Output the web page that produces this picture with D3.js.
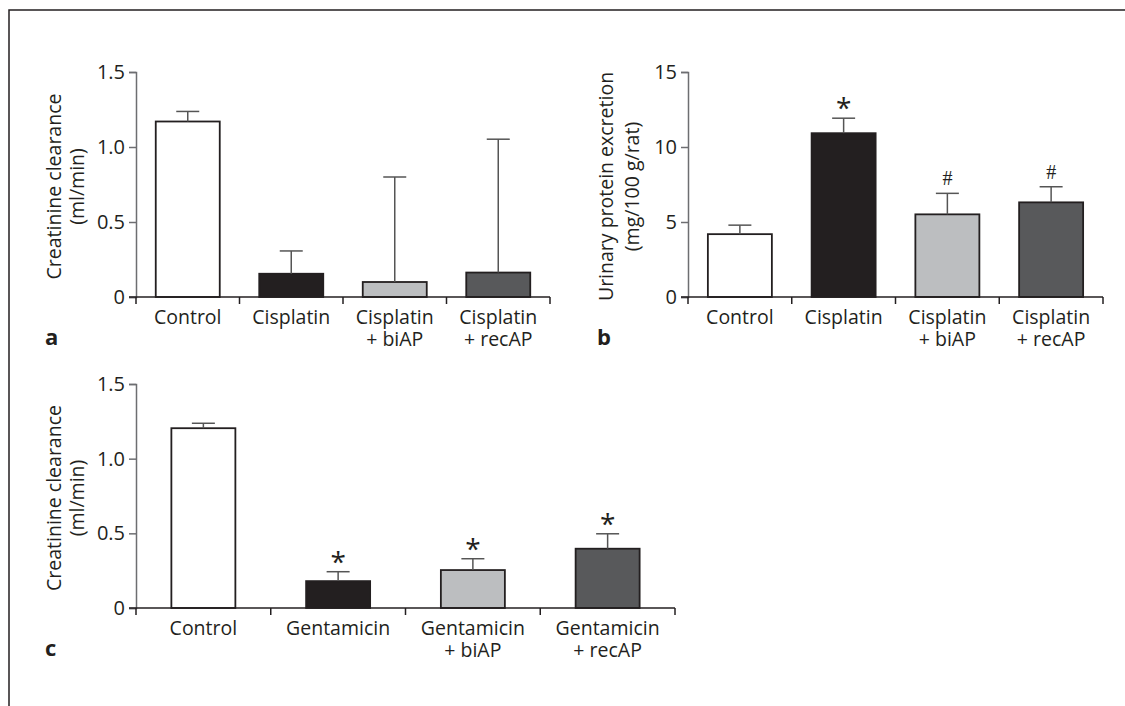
<!DOCTYPE html>
<html>
<head>
<meta charset="utf-8">
<script src="https://cdn.jsdelivr.net/npm/d3@7"></script>
<style>
  body { margin: 0; background: #fff; }
  svg { display: block; font-family: "Open Sans", sans-serif; }
</style>
</head>
<body>
<script>
var svgWidth = 1125;
var svgHeight = 706;

// categories (one array of lines per bar)
var catsCis = [["Control"], ["Cisplatin"], ["Cisplatin", "+ biAP"], ["Cisplatin", "+ recAP"]];
var catsGen = [["Control"], ["Gentamicin"], ["Gentamicin", "+ biAP"], ["Gentamicin", "+ recAP"]];

// panel a: creatinine clearance, cisplatin (ml/min)
var clearCis = [1.17, 0.155, 0.10, 0.163];
var clearCisSd = [0.067, 0.152, 0.70, 0.889];

// panel b: urinary protein excretion (mg/100 g/rat)
var protCis = [4.19, 10.92, 5.51, 6.31];
var protCisSd = [0.60, 1.00, 1.40, 1.04];
var protMarks = ["", "*", "#", "#"];

// panel c: creatinine clearance, gentamicin (ml/min)
var clearGen = [1.204, 0.18, 0.254, 0.397];
var clearGenSd = [0.033, 0.063, 0.076, 0.10];
var genMarks = ["", "*", "*", "*"];

var ticksClear = [0, 0.5, 1.0, 1.5];
var ticksProt = [0, 5, 10, 15];

var barColors = ["#ffffff", "#231f20", "#bcbec0", "#58595b"];
var ink = "#231f20";
var axisCol = "#6d6e71";

var svg = d3.select("body").append("svg")
  .attr("width", svgWidth)
  .attr("height", svgHeight);

// frame lines (top and left only)
svg.append("path")
  .attr("d", "M9,706V10H1125")
  .attr("fill", "none")
  .attr("stroke", ink)
  .attr("stroke-width", 1.5);

function drawPanel(opt) {
  var g = svg.append("g");
  var y = d3.scaleLinear().domain([0, opt.max]).range([opt.y0, opt.y1]);
  var x = d3.scaleBand().domain(d3.range(opt.cats.length)).range([opt.x0, opt.x1]);
  var barW = 64;

  // y axis
  var yAxis = d3.axisLeft(y)
    .tickValues(opt.ticks)
    .tickSize(7)
    .tickPadding(4)
    .tickFormat(opt.fmt);
  var ya = g.append("g")
    .attr("transform", "translate(" + opt.x0 + ",0)")
    .call(yAxis);
  ya.attr("font-size", null).attr("font-family", null);
  ya.select(".domain").attr("stroke", axisCol).attr("stroke-width", 1.5);
  ya.selectAll(".tick line").attr("stroke", axisCol).attr("stroke-width", 1.5);
  ya.selectAll(".tick text")
    .attr("fill", ink)
    .style("font-size", "20px")
    .style("font-family", "Open Sans");

  // bars
  g.selectAll(".bar")
    .data(opt.values)
    .enter()
    .append("rect")
    .attr("class", "bar")
    .attr("x", (d, i) => x(i) + x.bandwidth() / 2 - barW / 2)
    .attr("width", barW)
    .attr("y", d => y(d))
    .attr("height", d => y(0) - y(d))
    .attr("fill", (d, i) => barColors[i])
    .attr("stroke", ink)
    .attr("stroke-width", 1.8);

  // error bars (upper only)
  var err = g.selectAll(".err")
    .data(opt.values)
    .enter()
    .append("g")
    .attr("class", "err");
  err.append("line")
    .attr("x1", (d, i) => x(i) + x.bandwidth() / 2)
    .attr("x2", (d, i) => x(i) + x.bandwidth() / 2)
    .attr("y1", d => y(d))
    .attr("y2", (d, i) => y(d + opt.sd[i]))
    .attr("stroke", "#555")
    .attr("stroke-width", 1.5);
  err.append("line")
    .attr("x1", (d, i) => x(i) + x.bandwidth() / 2 - 11.5)
    .attr("x2", (d, i) => x(i) + x.bandwidth() / 2 + 11.5)
    .attr("y1", (d, i) => y(d + opt.sd[i]))
    .attr("y2", (d, i) => y(d + opt.sd[i]))
    .attr("stroke", "#555")
    .attr("stroke-width", 1.5);

  // significance marks
  if (opt.marks) {
    g.selectAll(".mark")
      .data(opt.values)
      .enter()
      .append("text")
      .attr("class", "mark")
      .attr("x", (d, i) => x(i) + x.bandwidth() / 2)
      .attr("y", (d, i) => y(d + opt.sd[i]) - (opt.marks[i] === "#" ? 8 : 0))
      .attr("text-anchor", "middle")
      .attr("fill", ink)
      .style("font-family", (d, i) => opt.marks[i] === "#" ? "Liberation Serif" : "Open Sans")
      .style("font-size", (d, i) => opt.marks[i] === "#" ? "20px" : "28px")
      .text((d, i) => opt.marks[i]);
  }

  // x axis line with ticks at band edges
  g.append("line")
    .attr("x1", opt.x0 - 7)
    .attr("x2", opt.x1)
    .attr("y1", y(0))
    .attr("y2", y(0))
    .attr("stroke", ink)
    .attr("stroke-width", 1.5);
  var edges = x.domain().map(i => x(i)).concat([opt.x1]);
  g.selectAll(".xtick")
    .data(edges)
    .enter()
    .append("line")
    .attr("x1", d => d)
    .attr("x2", d => d)
    .attr("y1", y(0))
    .attr("y2", y(0) + 7)
    .attr("stroke", ink)
    .attr("stroke-width", 1.5);

  // category labels
  var lab = g.selectAll(".cat")
    .data(opt.cats)
    .enter()
    .append("text")
    .attr("class", "cat")
    .attr("text-anchor", "middle")
    .attr("fill", ink)
    .style("font-size", "19.5px");
  lab.selectAll("tspan")
    .data((d, i) => d.map(s => ({ s: s, i: i })))
    .enter()
    .append("tspan")
    .attr("x", d => x(d.i) + x.bandwidth() / 2)
    .attr("y", (d, j) => y(0) + 27 + j * 22)
    .text(d => d.s);

  // y label (two lines, rotated)
  var cy = (opt.y0 + opt.y1) / 2 + 2;
  opt.ylab.forEach(function(s, j) {
    g.append("text")
      .attr("transform", "translate(" + opt.ylx[j] + "," + cy + ") rotate(-90)")
      .attr("text-anchor", "middle")
      .attr("dy", "0.35em")
      .attr("fill", ink)
      .style("font-size", "19.5px")
      .text(s);
  });

  // panel letter
  g.append("text")
    .attr("x", opt.letterX)
    .attr("y", y(0) + 48)
    .attr("fill", ink)
    .style("font-size", "22px")
    .style("font-weight", "bold")
    .text(opt.letter);
}

var fmtClear = d => d === 0 ? "0" : d3.format(".1f")(d);

drawPanel({
  x0: 136, x1: 550, y0: 297, y1: 72, max: 1.5,
  cats: catsCis, values: clearCis, sd: clearCisSd, ticks: ticksClear, fmt: fmtClear,
  ylab: ["Creatinine clearance", "(ml/min)"], ylx: [54, 77],
  letter: "a", letterX: 45
});

drawPanel({
  x0: 688, x1: 1103, y0: 297, y1: 72, max: 15,
  cats: catsCis, values: protCis, sd: protCisSd, ticks: ticksProt, fmt: d3.format("d"),
  marks: protMarks,
  ylab: ["Urinary protein excretion", "(mg/100 g/rat)"], ylx: [606, 632],
  letter: "b", letterX: 597
});

drawPanel({
  x0: 136, x1: 675, y0: 608, y1: 384, max: 1.5,
  cats: catsGen, values: clearGen, sd: clearGenSd, ticks: ticksClear, fmt: fmtClear,
  marks: genMarks,
  ylab: ["Creatinine clearance", "(ml/min)"], ylx: [54, 77],
  letter: "c", letterX: 45
});
</script>
</body>
</html>
